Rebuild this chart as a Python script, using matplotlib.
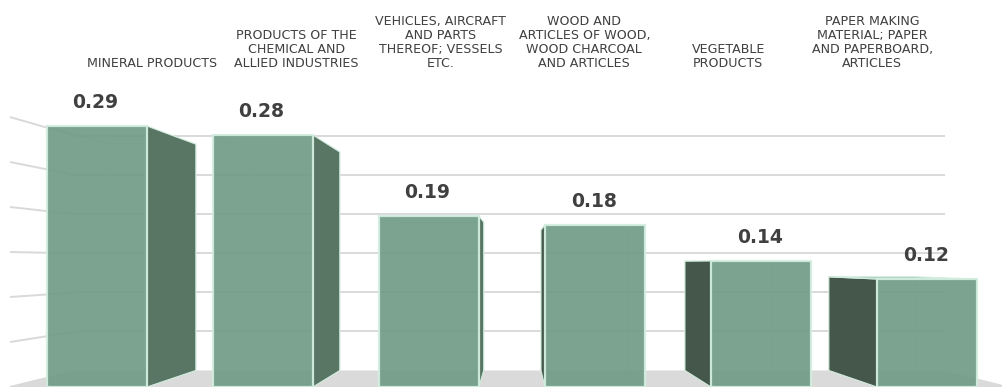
import matplotlib
matplotlib.use("Agg")
import matplotlib.pyplot as plt
from matplotlib.patches import Polygon

# ---- data -------------------------------------------------------------
categories = [
    "MINERAL PRODUCTS",
    "PRODUCTS OF THE\nCHEMICAL AND\nALLIED INDUSTRIES",
    "VEHICLES, AIRCRAFT\nAND PARTS\nTHEREOF; VESSELS\nETC.",
    "WOOD AND\nARTICLES OF WOOD,\nWOOD CHARCOAL\nAND ARTICLES",
    "VEGETABLE\nPRODUCTS",
    "PAPER MAKING\nMATERIAL; PAPER\nAND PAPERBOARD,\nARTICLES",
]
values = [0.29, 0.28, 0.19, 0.18, 0.14, 0.12]
grid_levels = [0.05, 0.10, 0.15, 0.20, 0.25, 0.30]

# ---- style / perspective ----------------------------------------------
FRONT = "#719c87"
RIGHT_SIDE = "#587663"
LEFT_SIDE = "#45574b"
TOP_FACE = "#9cc4af"
EDGE = "#d3eee0"
GRID = "#d9d9d9"
FLOOR = "#dadada"
TEXT = "#404040"

VX, VY = 2.518, 0.138      # vanishing point (data coords)
DEPTH = 0.133              # fraction of the way to the vanishing point
WALL_L, WALL_R = -0.524, 5.506
BAR_W = 0.602


def back(x, y):
    return x + DEPTH * (VX - x), y + DEPTH * (VY - y)


fig = plt.figure(figsize=(10.03, 3.87), dpi=100)
ax = fig.add_axes([0, 0, 1, 1])
ax.set_xlim(-0.584, 5.458)
ax.set_ylim(0, 0.43)
ax.axis("off")

# floor
floor = [(WALL_L, 0), (WALL_R, 0), back(WALL_R, 0), back(WALL_L, 0)]
ax.add_patch(Polygon(floor, closed=True, facecolor=FLOOR, edgecolor="none", zorder=1))

# back wall gridlines and left wall lines
for lev in grid_levels:
    (x0, y0), (x1, y1) = back(WALL_L, lev), back(WALL_R, lev)
    ax.plot([x0, x1], [y0, y1], color=GRID, lw=1.4, zorder=2, solid_capstyle="butt")
for lev in [0.0] + grid_levels:
    bx, by = back(WALL_L, lev)
    ax.plot([WALL_L, bx], [lev, by], color=GRID, lw=1.4, zorder=2, solid_capstyle="butt")

# front faces through the regular bar API
xs = list(range(len(values)))
bars = ax.bar(xs, values, width=BAR_W, color=FRONT, edgecolor=EDGE, linewidth=1.6,
              alpha=0.93, zorder=6)

for rect in bars:
    x0 = rect.get_x()
    x1 = x0 + rect.get_width()
    h = rect.get_height()
    # hidden back edges, seen faintly through the face
    bl, blt = back(x0, 0), back(x0, h)
    br, brt = back(x1, 0), back(x1, h)
    ax.plot([x0, blt[0], brt[0], br[0]], [h, blt[1], brt[1], br[1]],
            color=EDGE, lw=1.0, alpha=0.5, zorder=3)
    ax.plot([blt[0], bl[0]], [blt[1], bl[1]], color=EDGE, lw=1.0, alpha=0.5, zorder=3)
    # side face
    if x1 < VX:
        side = [(x1, 0), (x1, h), brt, br]
        ax.add_patch(Polygon(side, closed=True, facecolor=RIGHT_SIDE,
                             edgecolor=EDGE, lw=0.8, zorder=5))
    if x0 > VX:
        side = [(x0, 0), (x0, h), blt, bl]
        ax.add_patch(Polygon(side, closed=True, facecolor=LEFT_SIDE,
                             edgecolor=EDGE, lw=0.8, zorder=5))
    # top face when seen from above
    if h < VY:
        top = [(x0, h), (x1, h), brt, blt]
        ax.add_patch(Polygon(top, closed=True, facecolor=TOP_FACE,
                             edgecolor=EDGE, lw=0.8, zorder=5))

# value labels
for rect, v in zip(bars, values):
    ax.annotate(f"{v:.2f}", xy=(rect.get_x() + rect.get_width() / 2, v),
                xytext=(-1, 13), textcoords="offset points",
                ha="center", va="baseline", fontsize=13.5, fontweight="bold",
                color=TEXT, family="DejaVu Sans", zorder=8)

# category labels along the back wall
for i, name in enumerate(categories):
    cx, _ = back(i, 0)
    ax.text(cx, 0.3517, name, ha="center", va="bottom", multialignment="center",
            fontsize=9.1, color=TEXT, family="DejaVu Sans", linespacing=1.12,
            zorder=8)

fig.savefig("out.png", dpi=100)
